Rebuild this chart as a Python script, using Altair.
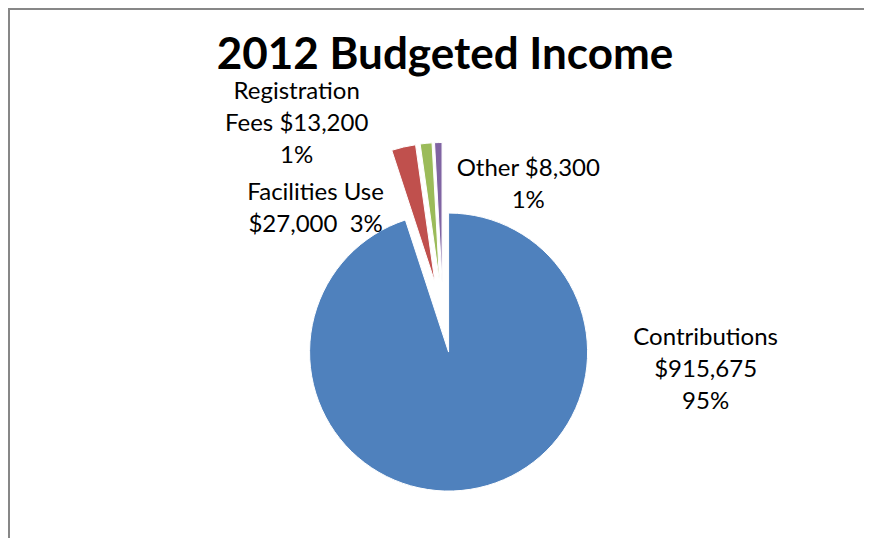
import altair as alt
import pandas as pd

# ---- data ----
categories = ["Contributions", "Facilities Use", "Registration Fees", "Other"]
amounts = [915675, 27000, 13200, 8300]
label_texts = [
    "Contributions\n$915,675\n95%",
    "Facilities Use\n$27,000\u00a0 3%",
    "Registration\nFees $13,200\n1%",
    "Other $8,300\n1%",
]
colors = ["#4F81BD", "#C0504D", "#9BBB59", "#8064A2"]
title_text = "2012 Budgeted Income"

# ---- label layout (polar, relative to pie centre, block centre of each label) ----
label_angle_deg = [101.5, 310.3, 322.8, 32.9]
label_dist = [268, 167, 242, 157]

# ---- geometry / style ----
W, H = 856, 530
CX, CY = 435, 309      # pie centre (view coordinates)
R = 139                # pie radius
EXPLODE = 35.5         # radial explosion of each slice
FONT = "Lato"
LABEL_SIZE = 24
LINE_H = 32
FRAME = "#878787"

df = pd.DataFrame({
    "category": categories,
    "amount": amounts,
    "label": label_texts,
    "order": list(range(len(categories))),
    "lab_angle": label_angle_deg,
    "lab_dist": label_dist,
})

base = (
    alt.Chart(df)
    .transform_joinaggregate(total="sum(amount)")
    .transform_window(cum="sum(amount)", sort=[alt.SortField("order")], frame=[None, 0])
    .transform_calculate(
        start="2*PI*(datum.cum - datum.amount)/datum.total",
        end="2*PI*datum.cum/datum.total",
    )
    .transform_calculate(mid="(datum.start + datum.end)/2")
    .transform_calculate(
        cx=f"{CX} + {EXPLODE}*sin(datum.mid)",
        cy=f"{CY} - {EXPLODE}*cos(datum.mid)",
        la="datum.lab_angle*PI/180",
        nlines="length(split(datum.label, '\\n'))",
    )
    .transform_calculate(
        lx=f"{CX} + datum.lab_dist*sin(datum.la)",
        ly=f"{CY} - datum.lab_dist*cos(datum.la) - (datum.nlines - 1)/2*{LINE_H}",
    )
)

pie = base.mark_arc(radius=R, stroke="white", strokeWidth=1).encode(
    x=alt.X("cx:Q", scale=None, axis=None, stack=False),
    y=alt.Y("cy:Q", scale=None, axis=None, stack=False),
    theta=alt.Theta("start:Q", scale=None),
    theta2="end:Q",
    color=alt.Color("category:N", scale=alt.Scale(domain=categories, range=colors), legend=None),
)

labels = base.mark_text(
    font=FONT, fontSize=LABEL_SIZE, lineHeight=LINE_H, lineBreak="\n",
    align="center", baseline="middle", color="black",
).encode(
    x=alt.X("lx:Q", scale=None, axis=None, stack=False),
    y=alt.Y("ly:Q", scale=None, axis=None, stack=False),
    text="label:N",
)

frame_data = alt.Data(values=[{"k": 0}])
left_rule = alt.Chart(frame_data).mark_rule(color=FRAME, strokeWidth=2).encode(
    x=alt.value(1), y=alt.value(0), y2=alt.value(H)
)
top_rule = alt.Chart(frame_data).mark_rule(color=FRAME, strokeWidth=2).encode(
    x=alt.value(0), x2=alt.value(W), y=alt.value(1)
)

chart = (
    alt.layer(left_rule, top_rule, pie, labels)
    .properties(
        width=W,
        height=H,
        padding=0,
        autosize="none",
        title=alt.TitleParams(
            title_text, font=FONT, fontSize=44, fontWeight="bold", color="black",
            anchor="middle", offset=-106, baseline="alphabetic", dx=9,
        ),
    )
    .configure_view(stroke=None)
    .configure(background="white")
)

chart.save("out.html", embed_options={"renderer": "svg", "actions": False})
